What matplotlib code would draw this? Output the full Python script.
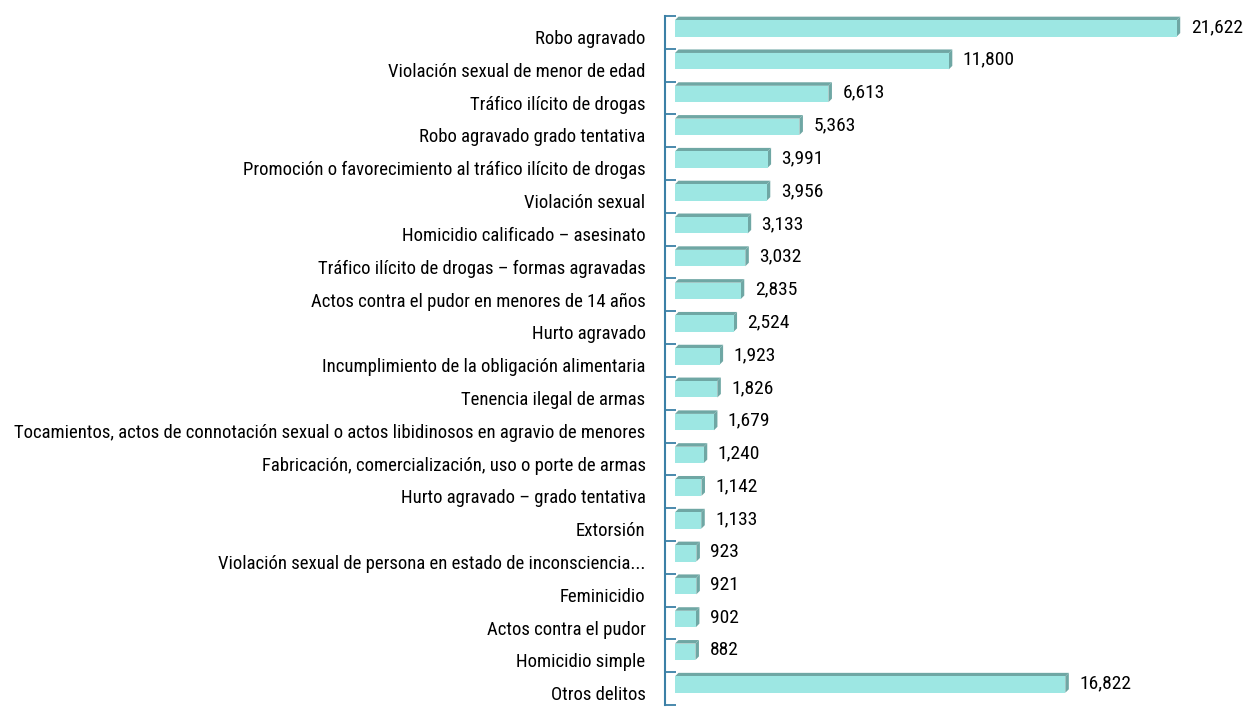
import numpy as np
import matplotlib
matplotlib.use("Agg")
import matplotlib.pyplot as plt
from matplotlib.patches import Polygon

plt.rcParams['font.family'] = ['Roboto Condensed', 'DejaVu Sans']

categories = [
    "Robo agravado",
    "Violación sexual de menor de edad",
    "Tráfico ilícito de drogas",
    "Robo agravado grado tentativa",
    "Promoción o favorecimiento al tráfico ilícito de drogas",
    "Violación sexual",
    "Homicidio calificado – asesinato",
    "Tráfico ilícito de drogas – formas agravadas",
    "Actos contra el pudor en menores de 14 años",
    "Hurto agravado",
    "Incumplimiento de la obligación alimentaria",
    "Tenencia ilegal de armas",
    "Tocamientos, actos de connotación sexual o actos libidinosos en agravio de menores",
    "Fabricación, comercialización, uso o porte de armas",
    "Hurto agravado – grado tentativa",
    "Extorsión",
    "Violación sexual de persona en estado de inconsciencia...",
    "Feminicidio",
    "Actos contra el pudor",
    "Homicidio simple",
    "Otros delitos",
]
values = [21622, 11800, 6613, 5363, 3991, 3956, 3133, 3032, 2835, 2524,
          1923, 1826, 1679, 1240, 1142, 1133, 923, 921, 902, 882, 16822]

FACE = "#9de7e3"
SHADE = "#6fa7a4"
AXIS = "#3b80a6"

fig = plt.figure(figsize=(12.5, 7.07), dpi=100)
ax = fig.add_axes([665 / 1250, 2 / 707, 1 - 665 / 1250, 689 / 707])

n = len(categories)
ax.set_xlim(-430, 24780)
ax.set_ylim(n, 0)

# depth of the 3d effect in data units (about 3.5 px)
dx = 3.5 / 0.0232
dy = 3.5 / 32.8
bar_h = 0.5
for i, v in enumerate(values):
    top = i + 0.02 + dy
    bot = top + bar_h
    ax.add_patch(Polygon([(0, top), (v, top), (v + dx, top - dy), (dx, top - dy)],
                         closed=True, facecolor=SHADE, edgecolor="none"))
    ax.add_patch(Polygon([(v, top), (v, bot), (v + dx, bot - dy), (v + dx, top - dy)],
                         closed=True, facecolor=SHADE, edgecolor="none"))
    ax.add_patch(Polygon([(0, top), (v, top), (v, bot), (0, bot)],
                         closed=True, facecolor=FACE, edgecolor="none"))
    ax.text(v + dx + 450, (top + bot) / 2 - 0.04, f"{v:,}", va="center", ha="left",
            fontsize=14, color="#000000")

# category boundaries as ticks, labels in between
ax.set_yticks(np.arange(n + 1))
ax.set_yticklabels([])
ax.tick_params(axis="y", which="major", direction="in", length=8, width=1.3, color=AXIS)
ax.set_yticks(np.arange(n) + 0.64, minor=True)
ax.set_yticklabels(categories, minor=True, fontsize=13.5, color="#000000")
ax.tick_params(axis="y", which="minor", length=0, pad=14)

ax.set_xticks([])
for s in ["top", "right", "bottom"]:
    ax.spines[s].set_visible(False)
ax.spines["left"].set_color(AXIS)
ax.spines["left"].set_linewidth(1.5)

fig.savefig("out.png", dpi=100)
